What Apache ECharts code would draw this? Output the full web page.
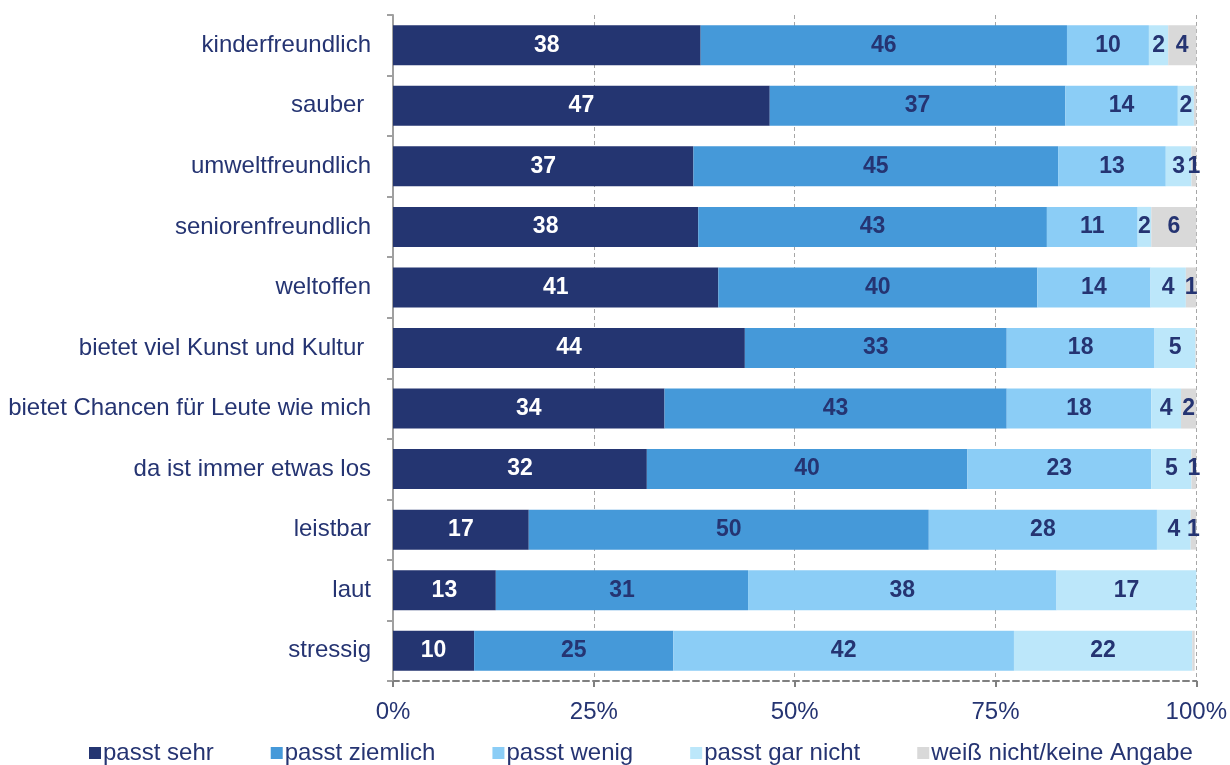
<!DOCTYPE html>
<html>
<head>
<meta charset="utf-8">
<script src="https://cdn.jsdelivr.net/npm/echarts@6/dist/echarts.min.js"></script>
<style>
html,body{margin:0;padding:0;background:#fff;}
#chart{width:1230px;height:765px;}
</style>
</head>
<body>
<div id="chart"></div>
<script>
const categories = ["kinderfreundlich","sauber ","umweltfreundlich","seniorenfreundlich","weltoffen","bietet viel Kunst und Kultur ","bietet Chancen für Leute wie mich","da ist immer etwas los","leistbar","laut","stressig"];
const seriesNames = ["passt sehr","passt ziemlich","passt wenig","passt gar nicht","weiß nicht/keine Angabe"];
const passtSehr      = [38.3,46.9,37.4,38.0,40.5,43.8,33.8,31.6,16.9,12.8,10.1];
const passtZiemlich  = [45.6,36.8,45.4,43.4,39.7,32.6,42.6,39.9,49.8,31.4,24.8];
const passtWenig     = [10.2,14.0,13.4,11.3,14.1,18.4,18.0,22.9,28.4,38.4,42.4];
const passtGarNicht  = [2.4,2.0,3.2,1.7,4.4,5.1,3.7,5.0,4.2,17.4,22.2];
const weissNicht     = [3.5,0.3,0.6,5.6,1.3,0.1,1.9,0.6,0.7,0.0,0.3];
const xTicks = [0,25,50,75,100];

const colors = ["#243571","#4599D9","#8BCDF6","#BCE7FA","#D9D9D9"];
const textBlue = "#253472";
const font = "Liberation Sans, Arial, sans-serif";
const allData = [passtSehr,passtZiemlich,passtWenig,passtGarNicht,weissNicht];

const chart = echarts.init(document.getElementById('chart'));
chart.setOption({
  animation:false,
  textStyle:{fontFamily:font},
  grid:{left:393,right:32,top:15,bottom:84},
  legend:{
    top:736,left:84,
    icon:'rect',itemWidth:12,itemHeight:12,itemGap:57,
    textStyle:{color:textBlue,fontSize:24,fontFamily:font,padding:[0,0,0,-3]},
    data:seriesNames
  },
  xAxis:{
    type:'value',min:xTicks[0],max:xTicks[xTicks.length-1],interval:25,
    axisLine:{show:true,lineStyle:{color:'#808080',width:2,type:[6,4]}},
    axisTick:{show:true,length:6,lineStyle:{color:'#808080',width:2}},
    axisLabel:{color:textBlue,fontSize:24,margin:19,formatter:v=>v+'%'},
    splitLine:{show:true,lineStyle:{color:'#A6A6A6',width:1,type:[4,3]}}
  },
  yAxis:{
    type:'category',inverse:true,data:categories,
    axisLine:{show:true,lineStyle:{color:'#A0A0A0',width:2}},
    axisTick:{show:true,length:6,inside:false,lineStyle:{color:'#A0A0A0',width:2}},
    axisLabel:{color:textBlue,fontSize:24,margin:22}
  },
  series: seriesNames.map((name,i)=>({
    name:name,type:'bar',stack:'total',barWidth:40,
    data:allData[i],
    itemStyle:{color:colors[i]},
    label:{
      show:true,position:'inside',
      color:i===0?'#ffffff':textBlue,
      fontSize:23,fontWeight:'bold',fontFamily:font,
      formatter:p=>{const r=Math.round(p.value);return r>=1?String(r):'';}
    }
  }))
});
</script>
</body>
</html>
